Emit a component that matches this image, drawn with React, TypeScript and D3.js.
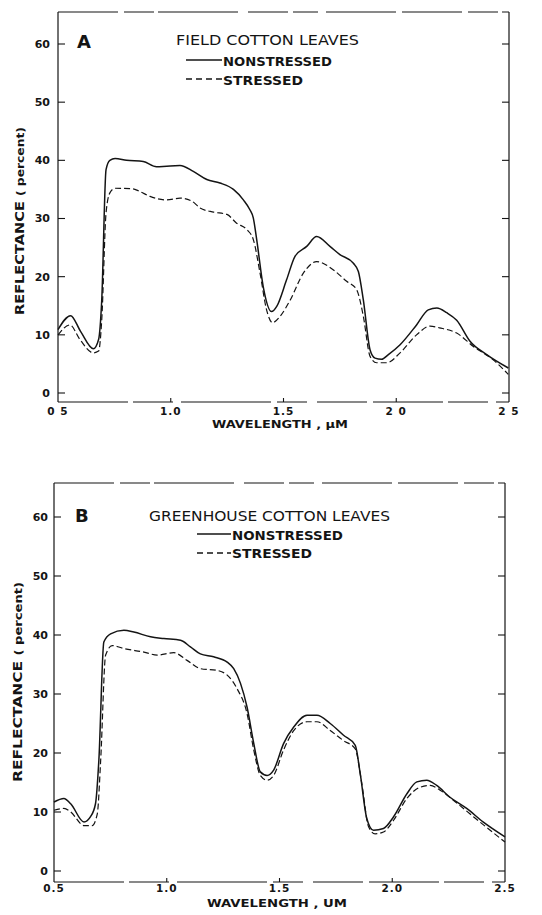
import { useEffect, useRef } from "react";
import * as d3 from "d3";

// wavelength (um), reflectance (percent)
const fieldNonstressed: [number, number][] = [
  [0.5, 10.9], [0.556, 13.3], [0.6, 10.6], [0.657, 7.6], [0.68, 9.2], [0.694, 16],
  [0.713, 38.4], [0.73, 40.0], [0.753, 40.3], [0.804, 40.0], [0.878, 39.8], [0.937, 38.9],
  [0.982, 39.0], [1.041, 39.1], [1.10, 38.1], [1.16, 36.7], [1.218, 36.1], [1.278, 35.0],
  [1.322, 33.2], [1.351, 31.5], [1.366, 30.1], [1.381, 26.4], [1.41, 18.3], [1.447, 14.0],
  [1.47, 14.9], [1.514, 19.5], [1.551, 23.5], [1.603, 25.2], [1.647, 26.9], [1.706, 25.2],
  [1.75, 23.8], [1.81, 22.3], [1.832, 20.9], [1.854, 16.0], [1.884, 7.4], [1.906, 6.0],
  [1.935, 5.8], [1.965, 6.6], [2.017, 8.3], [2.09, 11.7], [2.142, 14.3], [2.18, 14.6],
  [2.224, 13.8], [2.268, 12.5], [2.327, 8.9], [2.401, 6.6], [2.497, 4.3],
];

const fieldStressed: [number, number][] = [
  [0.5, 10.0], [0.553, 11.7], [0.597, 9.2], [0.657, 6.9], [0.68, 7.2], [0.694, 12.6],
  [0.713, 30.9], [0.73, 34.4], [0.753, 35.2], [0.833, 35.1], [0.86, 34.7], [0.908, 33.8],
  [0.982, 33.2], [1.041, 33.5], [1.093, 33.0], [1.13, 31.8], [1.19, 31.1], [1.249, 30.7],
  [1.292, 29.2], [1.337, 28.1], [1.366, 26.4], [1.396, 20.6], [1.425, 14.3], [1.451, 12.1],
  [1.485, 13.2], [1.53, 16.0], [1.588, 20.6], [1.647, 22.6], [1.72, 21.2], [1.78, 19.2],
  [1.824, 17.8], [1.854, 13.2], [1.884, 6.3], [1.913, 5.2], [1.958, 5.2], [2.017, 6.9],
  [2.09, 10.0], [2.15, 11.5], [2.192, 11.2], [2.268, 10.3], [2.342, 8.0], [2.43, 5.7],
  [2.497, 3.2],
];

const greenhouseNonstressed: [number, number][] = [
  [0.5, 11.7], [0.544, 12.3], [0.574, 11.4], [0.633, 8.3], [0.662, 9.2], [0.684, 11.4],
  [0.699, 18.8], [0.721, 38.8], [0.751, 40.2], [0.81, 40.8], [0.854, 40.5], [0.928, 39.7],
  [0.987, 39.4], [1.061, 39.1], [1.105, 38.0], [1.149, 36.8], [1.208, 36.3], [1.268, 35.4],
  [1.297, 34.3], [1.327, 31.8], [1.356, 27.8], [1.386, 21.6], [1.415, 16.8], [1.445, 16.2],
  [1.474, 17.1], [1.518, 21.6], [1.563, 24.4], [1.622, 26.4], [1.666, 26.4], [1.725, 25.0],
  [1.784, 23.0], [1.836, 21.3], [1.858, 16.5], [1.887, 8.9], [1.917, 6.9], [1.961, 7.2],
  [2.006, 9.2], [2.065, 13.1], [2.109, 15.1], [2.153, 15.4], [2.197, 14.5], [2.256, 12.5],
  [2.33, 10.6], [2.404, 8.3], [2.5, 5.8],
];

const greenhouseStressed: [number, number][] = [
  [0.5, 10.3], [0.544, 10.6], [0.574, 10.0], [0.633, 7.7], [0.669, 7.7], [0.692, 9.7],
  [0.707, 18.8], [0.729, 36.6], [0.758, 38.2], [0.81, 37.7], [0.899, 37.1], [0.958, 36.6],
  [1.031, 37.0], [1.09, 35.7], [1.149, 34.3], [1.223, 34.0], [1.268, 33.2], [1.312, 30.9],
  [1.356, 26.7], [1.386, 20.5], [1.415, 16.2], [1.445, 15.4], [1.474, 16.2], [1.518, 20.5],
  [1.563, 23.8], [1.622, 25.3], [1.666, 25.3], [1.725, 23.8], [1.784, 22.1], [1.836, 20.7],
  [1.865, 14.8], [1.895, 7.5], [1.924, 6.3], [1.961, 6.6], [2.006, 8.6], [2.065, 12.3],
  [2.124, 14.2], [2.168, 14.5], [2.212, 13.7], [2.271, 12.0], [2.36, 9.2], [2.5, 4.9],
];

const yTicks = [0, 10, 20, 30, 40, 50, 60];
const xTicks = [0.5, 1.0, 1.5, 2.0, 2.5];
const xTickLabelsA = ["0 5", "1.0", "1.5", "2 0", "2 5"];
const xTickLabelsB = ["0.5", "1.0", "1.5", "2.0", "2.5"];

const panels = [
  {
    letter: "A", title: "FIELD COTTON LEAVES", labels: xTickLabelsA, xTitle: "WAVELENGTH , \u00b5M",
    solid: fieldNonstressed, dashed: fieldStressed,
    left: 58, right: 509, top: 12, bottom: 402, y0: 393, y60: 44,
    letterPos: [77, 48], titlePos: [176, 45, 183],
    legSolid: [186, 222, 60], legDash: [186, 222, 79], labNon: [223, 66, 109], labStr: [223, 85, 80],
    tickLabY: 415, xTitleY: 428, xTitleX: 280, xTitleLen: 136, yTitleX: 24, yTitleY: 221, yTitleLen: 188,
    yLabX: 50,
  },
  {
    letter: "B", title: "GREENHOUSE COTTON LEAVES", labels: xTickLabelsB, xTitle: "WAVELENGTH , UM",
    solid: greenhouseNonstressed, dashed: greenhouseStressed,
    left: 54, right: 505, top: 483, bottom: 882, y0: 871, y60: 517,
    letterPos: [75, 522], titlePos: [149, 521, 241],
    legSolid: [197, 231, 534], legDash: [197, 231, 553], labNon: [232, 540, 111], labStr: [232, 558, 80],
    tickLabY: 892, xTitleY: 907, xTitleX: 277, xTitleLen: 140, yTitleX: 22, yTitleY: 682, yTitleLen: 200,
    yLabX: 48,
  },
];

const ink = "#141414";
const font = "'DejaVu Sans', sans-serif";

export default function App() {
  const svgRef = useRef<SVGSVGElement>(null);

  useEffect(() => {
    const svg = d3.select(svgRef.current);
    svg.selectAll("*").remove();

    svg.append("rect").attr("width", 542).attr("height", 915).attr("fill", "#fff");

    panels.forEach((p) => {
      const x = d3.scaleLinear().domain([0.5, 2.5]).range([p.left, p.right]);
      const y = d3.scaleLinear().domain([0, 60]).range([p.y0, p.y60]);
      const g = svg.append("g");

      // frame: sides solid, top and bottom broken like the scan
      g.append("line").attr("x1", p.left).attr("x2", p.left).attr("y1", p.top).attr("y2", p.bottom)
        .attr("stroke", ink).attr("stroke-width", 1.2);
      g.append("line").attr("x1", p.right).attr("x2", p.right).attr("y1", p.top).attr("y2", p.bottom)
        .attr("stroke", ink).attr("stroke-width", 1.2);
      g.append("line").attr("x1", p.left).attr("x2", p.right).attr("y1", p.top).attr("y2", p.top)
        .attr("stroke", ink).attr("stroke-width", 1.1).attr("stroke-dasharray", "60 6 30 4 80 10 40 5 25 8 70 6");
      g.append("line").attr("x1", p.left).attr("x2", p.right).attr("y1", p.bottom).attr("y2", p.bottom)
        .attr("stroke", ink).attr("stroke-width", 1.1).attr("stroke-dasharray", "70 5 40 8 90 6 30 10 50 6");

      // y ticks (inside, both sides)
      g.selectAll(".yt").data(yTicks).join("line")
        .attr("x1", p.left).attr("x2", p.left + 7).attr("y1", (d) => y(d)).attr("y2", (d) => y(d))
        .attr("stroke", ink).attr("stroke-width", 1.1);
      g.selectAll(".yr").data(yTicks).join("line")
        .attr("x1", p.right - 7).attr("x2", p.right).attr("y1", (d) => y(d)).attr("y2", (d) => y(d))
        .attr("stroke", ink).attr("stroke-width", 1.1);
      g.selectAll(".yl").data(yTicks).join("text")
        .attr("x", p.yLabX).attr("y", (d) => y(d)).attr("dy", "0.36em")
        .attr("text-anchor", "end").attr("font-family", font).attr("font-weight", "bold")
        .attr("font-size", 11).attr("fill", ink).text((d) => d);

      // x ticks
      g.selectAll(".xt").data(xTicks.slice(1, -1)).join("line")
        .attr("x1", (d) => x(d)).attr("x2", (d) => x(d)).attr("y1", p.bottom).attr("y2", p.bottom - 4)
        .attr("stroke", ink).attr("stroke-width", 1.1);
      g.selectAll(".xl").data(xTicks).join("text")
        .attr("x", (d) => x(d)).attr("y", p.tickLabY)
        .attr("text-anchor", "middle").attr("font-family", font).attr("font-weight", "bold")
        .attr("font-size", 10.5).attr("letter-spacing", 1).attr("fill", ink)
        .text((d, i) => p.labels[i]);

      // axis titles
      g.append("text").attr("x", p.xTitleX).attr("y", p.xTitleY).attr("text-anchor", "middle")
        .attr("font-family", font).attr("font-weight", "bold").attr("font-size", 11).attr("fill", ink)
        .attr("textLength", p.xTitleLen).attr("lengthAdjust", "spacingAndGlyphs").text(p.xTitle);

      const yt = g.append("text")
        .attr("transform", `translate(${p.yTitleX},${p.yTitleY}) rotate(-90)`)
        .attr("text-anchor", "middle").attr("font-family", font).attr("font-weight", "bold")
        .attr("font-size", 13).attr("fill", ink)
        .attr("textLength", p.yTitleLen).attr("lengthAdjust", "spacingAndGlyphs");
      yt.append("tspan").text("REFLECTANCE ");
      yt.append("tspan").attr("font-size", 11).text("( percent)");

      // panel letter, title, legend
      g.append("text").attr("x", p.letterPos[0]).attr("y", p.letterPos[1])
        .attr("font-family", font).attr("font-weight", "bold").attr("font-size", 18).attr("fill", ink)
        .text(p.letter);
      g.append("text").attr("x", p.titlePos[0]).attr("y", p.titlePos[1])
        .attr("font-family", font).attr("font-size", 13.5).attr("fill", ink)
        .attr("textLength", p.titlePos[2]).attr("lengthAdjust", "spacingAndGlyphs").text(p.title);

      g.append("line").attr("x1", p.legSolid[0]).attr("x2", p.legSolid[1])
        .attr("y1", p.legSolid[2]).attr("y2", p.legSolid[2]).attr("stroke", ink).attr("stroke-width", 1.3);
      g.append("line").attr("x1", p.legDash[0]).attr("x2", p.legDash[1])
        .attr("y1", p.legDash[2]).attr("y2", p.legDash[2]).attr("stroke", ink).attr("stroke-width", 1.3)
        .attr("stroke-dasharray", "6 4");
      g.append("text").attr("x", p.labNon[0]).attr("y", p.labNon[1])
        .attr("font-family", font).attr("font-weight", "bold").attr("font-size", 12).attr("fill", ink)
        .attr("textLength", p.labNon[2]).attr("lengthAdjust", "spacingAndGlyphs").text("NONSTRESSED");
      g.append("text").attr("x", p.labStr[0]).attr("y", p.labStr[1])
        .attr("font-family", font).attr("font-weight", "bold").attr("font-size", 12).attr("fill", ink)
        .attr("textLength", p.labStr[2]).attr("lengthAdjust", "spacingAndGlyphs").text("STRESSED");

      // spectra
      const line = d3.line<[number, number]>()
        .x((d) => x(d[0])).y((d) => y(d[1]))
        .curve(d3.curveMonotoneX);
      g.append("path").datum(p.solid).attr("d", line).attr("fill", "none")
        .attr("stroke", ink).attr("stroke-width", 1.5);
      g.append("path").datum(p.dashed).attr("d", line).attr("fill", "none")
        .attr("stroke", ink).attr("stroke-width", 1.2).attr("stroke-dasharray", "6 3");
    });
  }, []);

  return (
    <svg ref={svgRef} width={542} height={915}
      style={{ position: "absolute", left: 0, top: 0, display: "block" }} />
  );
}
